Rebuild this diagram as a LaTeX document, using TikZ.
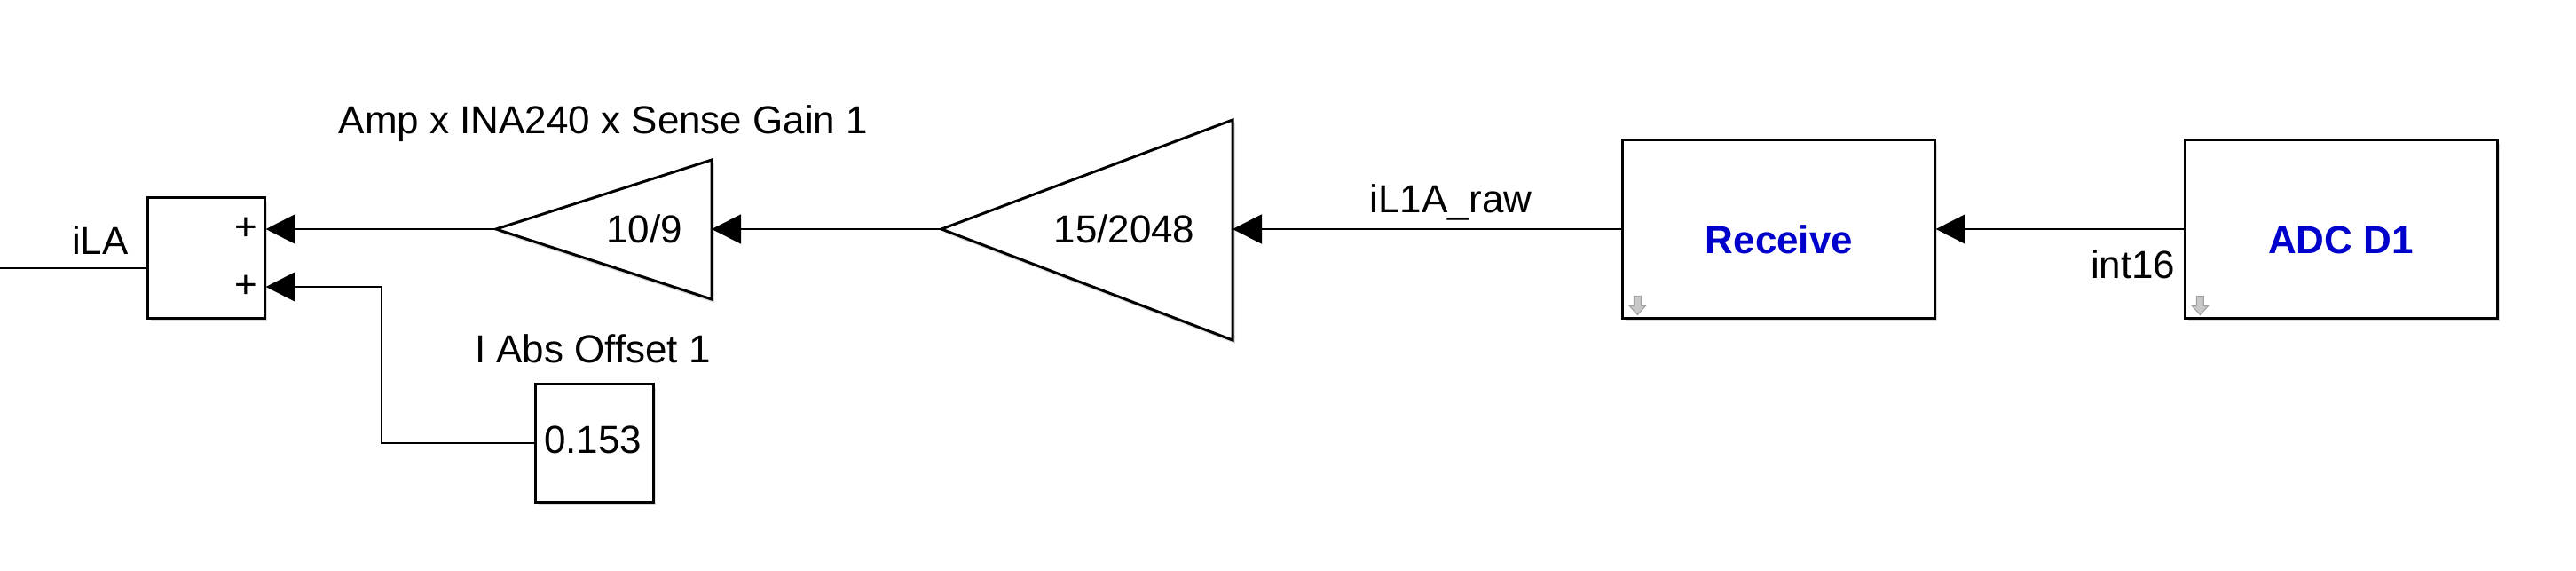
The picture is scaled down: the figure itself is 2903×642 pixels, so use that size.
\documentclass[tikz,border=0pt]{standalone}
\usepackage{fontspec}
\setmainfont{Liberation Sans}
\usetikzlibrary{arrows.meta,shadows}

\definecolor{blockblue}{RGB}{0,0,204}
\definecolor{portgray}{RGB}{200,200,200}

\begin{document}
\begin{tikzpicture}[x=0.01cm, y=-0.01cm, font=\fontsize{12.5}{15}\selectfont]
            \useasboundingbox (0,0) rectangle (2903,642);

            \tikzset{
                blockshadow/.style={drop shadow={shadow xshift=0.03cm, shadow yshift=-0.04cm, opacity=0.28}},
                gainshape/.style={draw=black, line width=0.85pt, fill=white, line join=miter, blockshadow},
                portarrow/.style={fill=portgray, draw=portgray!80!black, line width=0.3pt}
            }

            % blocks
            \begin{scope}[every node/.style={draw, line width=0.85pt, fill=white, inner sep=0pt, blockshadow}]
                \node[minimum width=1.31cm, minimum height=1.35cm] (sum) at (232.5,290.5) {};
                \node[minimum width=1.32cm, minimum height=1.32cm] (const) at (670,499) {};
                \node[minimum width=3.51cm, minimum height=2cm] (recv) at (2004.5,258) {};
                \node[minimum width=3.51cm, minimum height=2cm] (adc) at (2638.5,258) {};
            \end{scope}

            % gains
            \draw[gainshape] (559,258) -- (802,180) -- (802,337) -- cycle;
            \draw[gainshape] (1061,258) -- (1389,135) -- (1389,383) -- cycle;
            \coordinate (g1out) at (559,258);
            \coordinate (g1in) at (802,258);
            \coordinate (g2out) at (1061,258);
            \coordinate (g2in) at (1389,258);
            \coordinate (bend) at (430,323);
            \coordinate (outend) at (0,302);

            % texts
            \begin{scope}[every node/.style={inner sep=0pt}]
                \node (g1text) at (726,258) {10/9};
                \node (g2text) at (1267,258) {15/2048};
                \node (consttext) at (668,495) {0.153};
                \node (plus1) at (277,258) {+};
                \node (plus2) at (277,323) {+};
                \node (amplabel) at (680,139) {Amp x INA240 x Sense Gain 1};
                \node (offlabel) at (668,393) {I Abs Offset 1};
                \node (ilalabel) at (113,271) {iLA};
                \node (rawlabel) at (1635,228) {iL1A\_raw};
                \node[anchor=east] (intlabel) at (2452,298) {int16};
                \node[text=blockblue, font=\fontsize{12.5}{15}\selectfont\bfseries] (recvtext) at (2005,270) {Receive};
                \node[text=blockblue, font=\fontsize{12.5}{15}\selectfont\bfseries] (adctext) at (2638,270) {ADC D1};
            \end{scope}

            % port marks
            \begin{scope}[shift={(recv.south west)}]
                \filldraw[portarrow] (14,-26) -- (22,-26) -- (22,-15) -- (27,-15) -- (18,-5) -- (9,-15) -- (14,-15) -- cycle;
            \end{scope}
            \begin{scope}[shift={(adc.south west)}]
                \filldraw[portarrow] (14,-26) -- (22,-26) -- (22,-15) -- (27,-15) -- (18,-5) -- (9,-15) -- (14,-15) -- cycle;
            \end{scope}

            % signals
            \begin{scope}[every edge/.style={draw=black, line width=0.55pt}]
                \path [-{Triangle[length=0.33cm, width=0.33cm]}] (adc.west) edge (recv.east);
                \path [-{Triangle[length=0.33cm, width=0.33cm]}] (recv.west) edge (g2in);
                \path [-{Triangle[length=0.33cm, width=0.33cm]}] (g2out) edge (g1in);
                \path [-{Triangle[length=0.33cm, width=0.33cm]}] (g1out) edge (g1out -| sum.east);
                \path [-] (outend) edge (outend -| sum.west);
            \end{scope}
            \draw [line width=0.55pt, -{Triangle[length=0.33cm, width=0.33cm]}] (const.west) -| (bend) -- (bend -| sum.east);
        \end{tikzpicture}
\end{document}
